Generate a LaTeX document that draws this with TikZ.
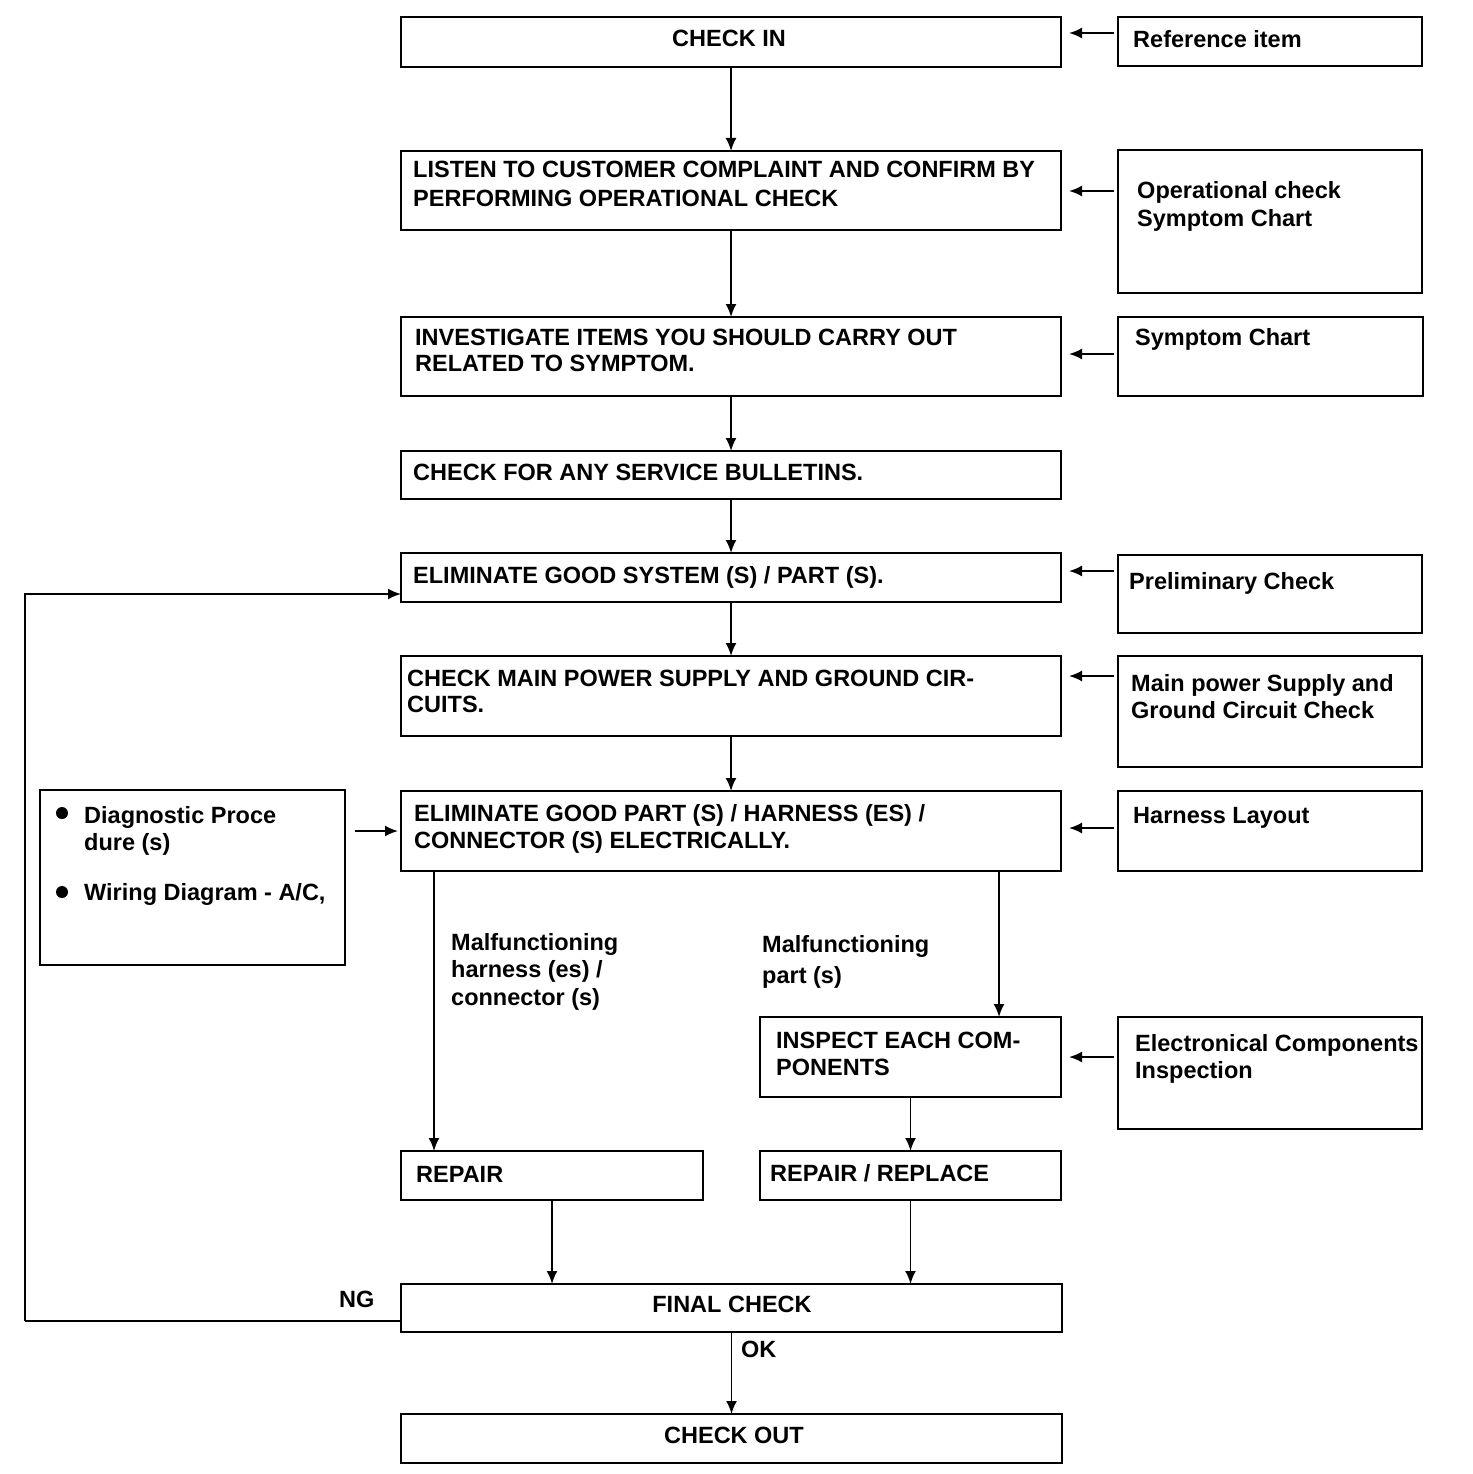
\documentclass[tikz,border=0pt]{standalone}
\usepackage{fontspec}
\setmainfont{Liberation Sans}
\usetikzlibrary{arrows.meta,calc}
\tikzset{
  box/.style={draw, line width=2.2pt, anchor=north west, inner sep=0pt, outer sep=0pt},
  txt/.style={anchor=base west, inner sep=0pt, font=\fontsize{23.5}{27}\selectfont\bfseries},
  ctxt/.style={txt, anchor=base},
  arr/.style={line width=1.9pt, -{Latex[length=13pt,width=11pt]}},
  sidearr/.style={arr, shorten <=4pt, shorten >=8pt},
}
\newcommand{\bx}[5]{\node[box, minimum width={#4-#2}, minimum height={#5-#3}] (#1) at (#2,#3) {};}
\begin{document}
\begin{tikzpicture}[x=1pt,y=-1pt]
\fill[white] (0,0) rectangle (1472,1474);
\useasboundingbox (0,0) rectangle (1472,1474);

% main column boxes
\bx{b1}{401}{17}{1061}{67}
\bx{b2}{401}{151}{1061}{230}
\bx{b3}{401}{317}{1061}{396}
\bx{b4}{401}{451}{1061}{499}
\bx{b5}{401}{553}{1061}{602}
\bx{b6}{401}{656}{1061}{736}
\bx{b7}{401}{791}{1061}{871}
\bx{b8}{760}{1017}{1061}{1097}
\bx{b9}{401}{1151}{703}{1200}
\bx{b10}{760}{1151}{1061}{1200}
\bx{b11}{401}{1284}{1062}{1332}
\bx{b12}{401}{1414}{1062}{1463}

% right reference boxes
\bx{r1}{1118}{17}{1422}{66}
\bx{r2}{1118}{150}{1422}{293}
\bx{r3}{1118}{317}{1423}{396}
\bx{r4}{1118}{555}{1422}{633}
\bx{r5}{1118}{656}{1422}{767}
\bx{r6}{1118}{791}{1422}{871}
\bx{r7}{1118}{1017}{1422}{1129}

% left box
\bx{l1}{40}{790}{345}{965}

% texts main
\node[ctxt] (t1) at (729,47) {CHECK IN};
\node[txt] (t2a) at (413,178) {LISTEN TO CUSTOMER COMPLAINT AND CONFIRM BY};
\node[txt] (t2b) at (413,207) {PERFORMING OPERATIONAL CHECK};
\node[txt] (t3a) at (415,345) {INVESTIGATE ITEMS YOU SHOULD CARRY OUT};
\node[txt] (t3b) at (415,371) {RELATED TO SYMPTOM.};
\node[txt] (t4) at (413,480) {CHECK FOR ANY SERVICE BULLETINS.};
\node[txt] (t5) at (413,583) {ELIMINATE GOOD SYSTEM (S) / PART (S).};
\node[txt] (t6a) at (407,686) {CHECK MAIN POWER SUPPLY AND GROUND CIR-};
\node[txt] (t6b) at (407,712) {CUITS.};
\node[txt] (t7a) at (414,821) {ELIMINATE GOOD PART (S) / HARNESS (ES) /};
\node[txt] (t7b) at (414,848) {CONNECTOR (S) ELECTRICALLY.};
\node[txt] (t8a) at (776,1048) {INSPECT EACH COM-};
\node[txt] (t8b) at (776,1075) {PONENTS};
\node[txt] (t9) at (416,1182) {REPAIR};
\node[txt] (t10) at (770,1181) {REPAIR / REPLACE};
\node[ctxt] (t11) at (732,1312) {FINAL CHECK};
\node[ctxt] (t12) at (734,1443) {CHECK OUT};

% texts right
\node[txt] (s1) at (1133,48) {Reference item};
\node[txt] (s2a) at (1137,199) {Operational check};
\node[txt] (s2b) at (1137,226) {Symptom Chart};
\node[txt] (s3) at (1135,345) {Symptom Chart};
\node[txt] (s4) at (1129,589) {Preliminary Check};
\node[txt] (s5a) at (1131,691) {Main power Supply and};
\node[txt] (s5b) at (1131,718) {Ground Circuit Check};
\node[txt] (s6) at (1133,823) {Harness Layout};
\node[txt] (s7a) at (1135,1051) {Electronical Components};
\node[txt] (s7b) at (1135,1078) {Inspection};

% left box texts
\fill (62,813) circle (6);
\fill (62,892) circle (6);
\node[txt] (la) at (84,823) {Diagnostic Proce};
\node[txt] (lb) at (84,850) {dure (s)};
\node[txt] (lc) at (84,900) {Wiring Diagram - A/C,};

% labels
\node[txt] (m1a) at (451,950) {Malfunctioning};
\node[txt] (m1b) at (451,977) {harness (es) /};
\node[txt] (m1c) at (451,1005) {connector (s)};
\node[txt] (m2a) at (762,952) {Malfunctioning};
\node[txt] (m2b) at (762,983) {part (s)};
\node[txt] (ng) at (339,1307) {NG};
\node[txt] (ok) at (741,1357) {OK};

% main flow connectors
\draw[arr] (b1.south) -- (b2.north);
\draw[arr] (b2.south) -- (b3.north);
\draw[arr] (b3.south) -- (b4.north);
\draw[arr] (b4.south) -- (b5.north);
\draw[arr] (b5.south) -- (b6.north);
\draw[arr] (b6.south) -- (b7.north);
\coordinate (c9) at (434,1151);
\coordinate (c8) at (999,1017);
\draw[arr] (b7.south -| c9) -- (c9);
\draw[arr] (b7.south -| c8) -- (c8);
\draw[arr] (b8.south) -- (b10.north);
\draw[arr] (b9.south) -- (b9.south |- b11.north);
\draw[arr] (b10.south) -- (b10.south |- b11.north);
\draw[arr] (b11.south) -- (b12.north);

% NG loop
\coordinate (ngc) at (25,1321);
\coordinate (ngt) at (401,594);
\draw[line width=2.2pt] (b11.west |- ngc) -- (ngc);
\draw[arr] (ngc) |- (ngt);

% left box to b7
\draw[arr, shorten <=10pt, shorten >=3pt] (l1.east |- b7.west) -- (b7.west);

% reference arrows
\draw[sidearr] (r1.west |- 0,33) -- (b1.east |- 0,33);
\draw[sidearr] (r2.west |- 0,191) -- (b2.east |- 0,191);
\draw[sidearr] (r3.west |- 0,354) -- (b3.east |- 0,354);
\draw[sidearr] (r4.west |- 0,571) -- (b5.east |- 0,571);
\draw[sidearr] (r5.west |- 0,676) -- (b6.east |- 0,676);
\draw[sidearr] (r6.west |- 0,828) -- (b7.east |- 0,828);
\draw[sidearr] (r7.west |- 0,1057) -- (b8.east |- 0,1057);
\end{tikzpicture}
\end{document}
